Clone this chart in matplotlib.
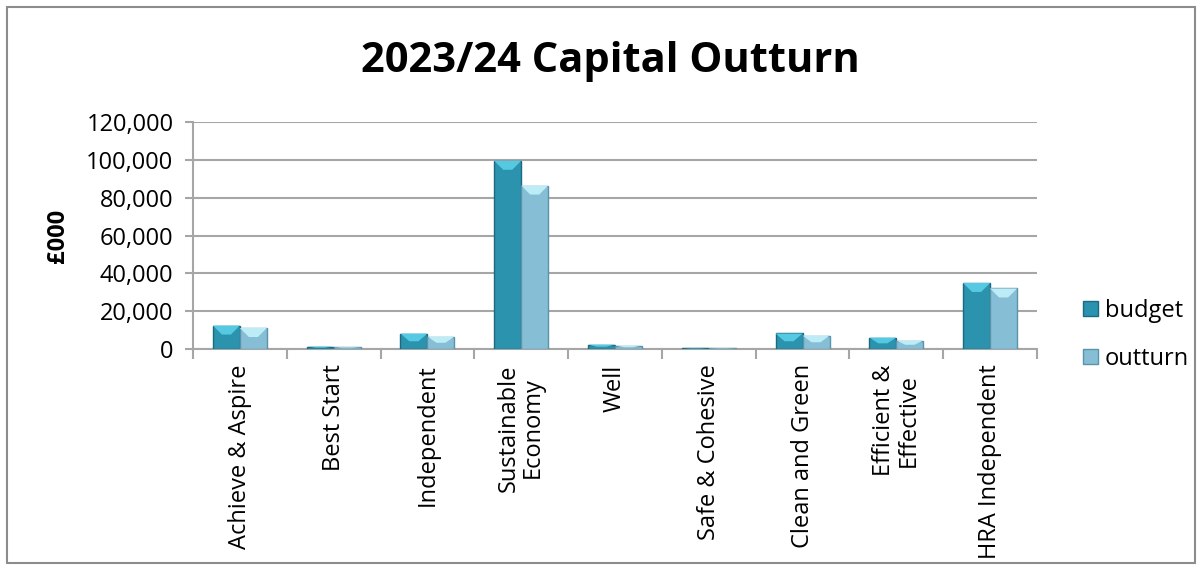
import matplotlib
matplotlib.use("Agg")
import matplotlib.pyplot as plt
from matplotlib.patches import Rectangle, Polygon, Patch
from matplotlib.ticker import FuncFormatter, FixedLocator
import numpy as np

categories = ["Achieve & Aspire", "Best Start", "Independent", "Sustainable\nEconomy", "Well",
              "Safe & Cohesive", "Clean and Green", "Efficient &\nEffective", "HRA Independent"]
budget = [12400, 1300, 8150, 99500, 2300, 600, 8200, 6000, 34900]
outturn = [11100, 900, 6550, 86400, 1800, 400, 7100, 4450, 32000]
series_names = ["budget", "outturn"]
title = "2023/24 Capital Outturn"
ylabel = "£000"
yticks = [0, 20000, 40000, 60000, 80000, 100000, 120000]

FONT = "Open Sans"
plt.rcParams["font.family"] = [FONT, "DejaVu Sans"]

W, H = 1202, 570
fig = plt.figure(figsize=(W / 100, H / 100), dpi=100)
fig.patch.set_facecolor("white")

# outer chart frame
fig.add_artist(Rectangle((7 / W, 7 / H), (1195 - 7) / W, (563 - 7) / H, transform=fig.transFigure,
                         fill=False, edgecolor="#8c8c8c", linewidth=1.5))

ax = fig.add_axes([193 / W, 1 - 349 / H, (1037 - 193) / W, (349 - 122) / H])
ax.set_xlim(-0.5, len(categories) - 0.5)
ax.set_ylim(0, 120000)

grid_col = "#a6a6a6"
for s in ["top", "right"]:
    ax.spines[s].set_visible(False)
for s in ["left", "bottom"]:
    ax.spines[s].set_color(grid_col)
    ax.spines[s].set_linewidth(1.5)
ax.yaxis.grid(True, color=grid_col, linewidth=1.5)
ax.set_axisbelow(True)

ax.yaxis.set_major_locator(FixedLocator(yticks))
ax.yaxis.set_major_formatter(FuncFormatter(lambda v, p: f"{int(v):,}"))
ax.tick_params(axis="y", direction="out", length=6, width=1.5, color=grid_col, labelsize=17, pad=8)

ax.xaxis.set_major_locator(FixedLocator(np.arange(-0.5, len(categories), 1.0)))
ax.xaxis.set_major_formatter(FuncFormatter(lambda v, p: ""))
ax.xaxis.set_minor_locator(FixedLocator(np.arange(len(categories))))
ax.set_xticklabels(categories, minor=True, rotation=90, fontsize=17, linespacing=1.0)
ax.tick_params(axis="x", which="major", direction="out", length=7, width=1.5, color=grid_col)
ax.tick_params(axis="x", which="minor", length=0, pad=11)

bw = 0.288
styles = [
    dict(main="#2b93ae", top="#55c9e2", edge="#1b6a80"),
    dict(main="#86bfd5", top="#bdebf6", edge="#5a93aa"),
]
x = np.arange(len(categories))
px_per_unit_y = (349 - 122) / 120000.0
bevel_px = 9.0
bevel_y = bevel_px / px_per_unit_y
bevel_x = bevel_px / ((1037 - 193) / len(categories))

for k, (vals, st) in enumerate(zip([budget, outturn], styles)):
    xs = x + (k - 0.5) * bw
    bars = ax.bar(xs, vals, width=bw, color=st["main"], edgecolor=st["edge"], linewidth=1.0,
                  zorder=3, label=series_names[k])
    for b in bars:
        x0 = b.get_x(); x1 = x0 + b.get_width(); h = b.get_height()
        dy = min(bevel_y, h * 0.5)
        dx = min(bevel_x, b.get_width() * 0.4)
        ax.add_patch(Polygon([(x0, h), (x1, h), (x1 - dx, h - dy), (x0 + dx, h - dy)],
                             closed=True, facecolor=st["top"], edgecolor="none", zorder=4))

ax.set_ylabel(ylabel, fontsize=17, fontweight="bold", labelpad=12)

fig.text(610 / W, 1 - 62 / H, title, ha="center", va="center", fontsize=30, fontweight="bold")

handles = [Patch(facecolor=styles[0]["main"], edgecolor=styles[0]["edge"]),
           Patch(facecolor=styles[1]["main"], edgecolor=styles[1]["edge"])]
fig.legend(handles, series_names, loc="center left", bbox_to_anchor=(1074 / W, 1 - 335 / H),
           frameon=False, fontsize=17, handlelength=0.6, handleheight=0.6, handletextpad=0.3,
           labelspacing=1.0, borderaxespad=0)

fig.savefig("out.png", dpi=100, facecolor="white")
